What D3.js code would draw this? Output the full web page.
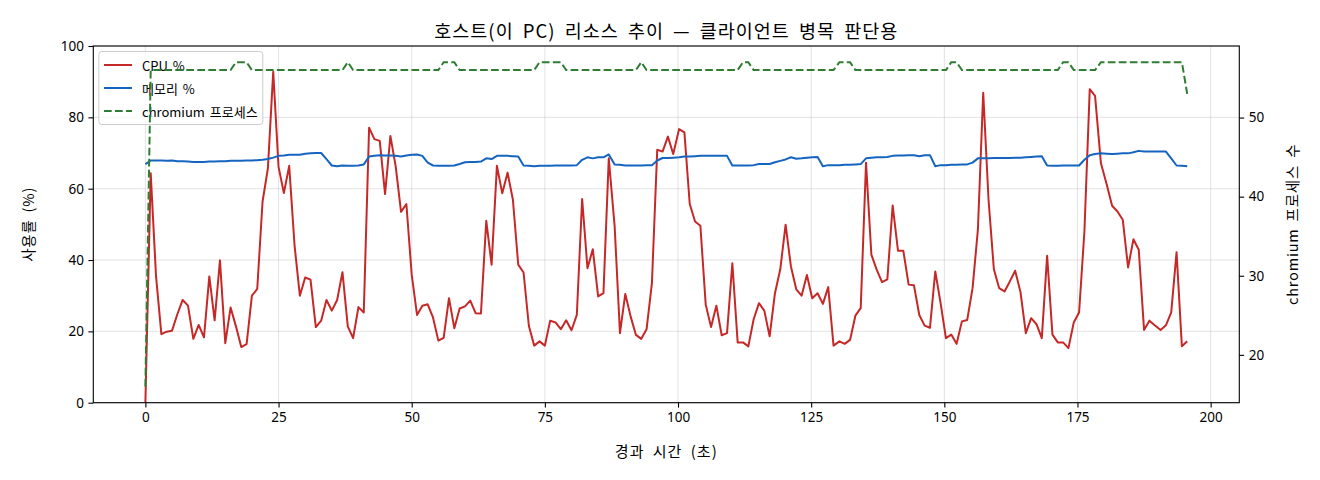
<!DOCTYPE html>
<html>
<head>
<meta charset="utf-8">
<script src="https://cdn.jsdelivr.net/npm/d3@7"></script>
<style>
  body { margin: 0; background: #fff; }
  text { font-family: "Noto Sans CJK KR", "Noto Sans", sans-serif; }
</style>
</head>
<body>
<div id="chart"></div>
<script>
const WIDTH = 1320;
const HEIGHT = 480;

// elapsed seconds for each sample (sampling drifts a little late)
const times = [
  0,1,2,3,4,5,6,7,8,9,
  10,11,12,13,14,15,16,17,18,19,
  20,21,22,23,24,25,26,27,28,29,
  30,31,32,33,34,35,36,37,38,39,
  40,41,42,43,44,45,46,47,48,49,
  50,51,52,53,54,55,56,57,58,59,
  60,61,62,63,64,65,66,67,68,69,
  70,71,72,73,74,75,76,77,78,79,
  80,81,82,83,84,85,86,87,88.1,89.1,
  90.1,91.1,92.1,93.1,94.1,95.1,96.1,97.1,98.1,99.1,
  100.2,101.2,102.2,103.2,104.2,105.2,106.2,107.2,108.2,109.2,
  110.2,111.2,112.2,113.2,114.2,115.2,116.2,117.2,118.2,119.2,
  120.2,121.2,122.2,123.2,124.2,125.2,126.2,127.2,128.2,129.2,
  130.3,131.3,132.3,133.3,134.3,135.3,136.3,137.3,138.3,139.3,
  140.3,141.3,142.3,143.3,144.3,145.3,146.3,147.3,148.3,149.3,
  150.3,151.3,152.3,153.3,154.3,155.3,156.3,157.3,158.3,159.3,
  160.3,161.3,162.3,163.3,164.3,165.3,166.3,167.3,168.3,169.3,
  170.3,171.3,172.3,173.3,174.3,175.3,176.3,177.3,178.3,179.4,
  180.5,181.5,182.5,183.5,184.5,185.5,186.5,187.5,188.5,189.5,
  190.6,191.6,192.6,193.6,194.6,195.6
];

const cpu = [
  0,64.3,35.4,19.2,19.9,20.2,24.8,28.8,27.2,17.9,
  21.8,18.3,35.4,23.1,39.9,16.7,26.7,21.4,15.6,16.4,
  30.0,31.9,56.4,65.7,92.8,66.1,58.8,66.4,44.2,30.0,
  35.1,34.5,21.2,23.0,28.8,25.8,28.8,36.6,21.4,18.1,
  26.8,25.3,77.1,73.9,73.4,58.5,74.8,66.2,53.5,55.7,
  35.9,24.6,27.2,27.6,23.9,17.4,18.2,29.3,20.9,26.4,
  27.0,28.6,25.1,25.0,51.0,38.7,66.4,58.7,64.5,56.9,
  38.7,36.5,21.5,16.0,17.2,16.0,23.0,22.5,20.6,23.1,
  20.3,24.6,57.1,37.7,43.0,29.8,30.7,68.5,49.5,19.5,
  30.5,24.2,19.0,17.9,20.6,33.5,70.9,70.4,74.6,69.7,
  76.7,75.8,55.7,50.8,49.6,27.5,21.2,27.2,18.9,19.5,
  39.1,16.9,16.9,15.8,23.4,27.9,25.8,18.6,30.7,37.4,
  49.9,38.2,31.8,30.0,35.8,29.3,30.7,27.7,32.4,16.0,
  17.2,16.5,17.6,24.4,26.5,67.3,41.5,37.3,33.8,34.6,
  55.3,42.6,42.6,33.1,32.9,24.6,21.6,21.0,36.8,27.9,
  18.1,19.1,16.5,22.8,23.2,32.1,48.5,86.9,56.9,37.4,
  32.1,31.2,34.0,37.0,31.0,19.5,23.7,22.0,18.1,41.2,
  19.1,16.9,16.9,15.3,22.5,25.3,48.0,87.9,86.0,67.1,
  61.1,55.2,53.6,51.3,37.9,45.8,42.9,20.4,23.0,21.7,
  20.4,21.7,25.3,42.2,15.8,17.2
];

const memory = [
  66.9,67.9,67.9,67.9,67.8,67.9,67.7,67.7,67.6,67.5,
  67.5,67.5,67.6,67.6,67.7,67.7,67.8,67.8,67.8,67.9,
  67.9,68.0,68.1,68.3,68.7,69.2,69.3,69.5,69.5,69.5,
  69.8,69.9,70.0,70.0,68.3,66.5,66.3,66.5,66.4,66.4,
  66.5,66.8,69.0,69.2,69.4,69.3,69.3,69.2,69.0,69.3,
  69.5,69.6,69.2,67.3,66.5,66.4,66.4,66.4,66.5,66.9,
  67.4,67.5,67.5,67.6,68.5,68.3,69.2,69.2,69.2,69.1,
  69.0,66.5,66.4,66.3,66.4,66.4,66.4,66.5,66.5,66.5,
  66.5,66.6,68.1,68.8,68.5,68.8,68.8,69.6,66.8,66.7,
  66.5,66.5,66.5,66.5,66.6,66.6,67.9,68.6,68.6,68.7,
  68.8,69.0,69.0,69.1,69.2,69.2,69.2,69.2,69.2,69.2,
  66.5,66.5,66.5,66.5,66.6,66.9,66.9,66.9,67.4,67.8,
  68.2,68.8,68.4,68.5,68.7,68.8,68.9,66.3,66.6,66.6,
  66.6,66.7,66.7,66.8,66.9,68.5,68.7,68.8,68.8,68.9,
  69.2,69.3,69.3,69.4,69.4,69.1,69.4,69.4,66.3,66.6,
  66.6,66.7,66.7,66.8,66.8,67.3,68.5,68.5,68.5,68.6,
  68.6,68.6,68.6,68.7,68.7,68.8,68.9,69.0,69.1,66.5,
  66.4,66.4,66.5,66.5,66.5,66.5,68.1,69.4,69.7,69.9,
  69.8,69.7,69.8,69.9,69.9,70.2,70.6,70.4,70.4,70.4,
  70.4,70.4,68.5,66.5,66.4,66.3
];

const chromium = [
  16,56,56,56,56,56,56,56,56,56,
  56,56,56,56,56,56,56,57,57,57,
  56,56,56,56,56,56,56,56,56,56,
  56,56,56,56,56,56,56,56,57,56,
  56,56,56,56,56,56,56,56,56,56,
  56,56,56,56,56,56,57,57,57,56,
  56,56,56,56,56,56,56,56,56,56,
  56,56,56,56,57,57,57,57,57,56,
  56,56,56,56,56,56,56,56,56,56,
  56,56,56,57,56,56,56,56,56,56,
  56,56,56,56,56,56,56,56,56,56,
  56,56,57,57,56,56,56,56,56,56,
  56,56,56,56,56,56,56,56,56,56,
  57,57,57,56,56,56,56,56,56,56,
  56,56,56,56,56,56,56,56,56,56,
  56,57,57,56,56,56,56,56,56,56,
  56,56,56,56,56,56,56,56,56,56,
  56,56,57,57,56,56,56,56,56,57,
  57,57,57,57,57,57,57,57,57,57,
  57,57,57,57,57,53
];

const xTicks = [0, 25, 50, 75, 100, 125, 150, 175, 200];
const yTicks = [0, 20, 40, 60, 80, 100];
const y2Ticks = [20, 30, 40, 50];

const series = [
  {name: "CPU %", values: cpu, color: "#c62828"},
  {name: "메모리 %", values: memory, color: "#1565c0"}
];

// plot box (matplotlib style)
const PL = 93.3, PR = 1239.3, PT = 46, PB = 402.7;

let svg = d3.select("#chart")
    .append("svg")
    .attr("width", WIDTH)
    .attr("height", HEIGHT);

svg.append("rect").attr("width", WIDTH).attr("height", HEIGHT).attr("fill", "#fff");

// 5% margins like matplotlib autoscale
let tExt = d3.extent(times);
let tPad = (tExt[1] - tExt[0]) * 0.05;
let x = d3.scaleLinear().domain([tExt[0] - tPad, tExt[1] + tPad]).range([PL, PR]);
let y = d3.scaleLinear().domain([0, 100]).range([PB, PT]);
let cExt = d3.extent(chromium);
let cPad = (cExt[1] - cExt[0]) * 0.05;
let y2 = d3.scaleLinear().domain([cExt[0] - cPad, cExt[1] + cPad]).range([PB, PT]);

// grid
let grid = svg.append("g");
grid.selectAll(".vg").data(xTicks).enter().append("line")
    .attr("x1", d => x(d)).attr("x2", d => x(d))
    .attr("y1", PT).attr("y2", PB)
    .attr("stroke", "#b0b0b0").attr("stroke-opacity", 0.35).attr("stroke-width", 1);
grid.selectAll(".hg").data(yTicks).enter().append("line")
    .attr("x1", PL).attr("x2", PR)
    .attr("y1", d => y(d)).attr("y2", d => y(d))
    .attr("stroke", "#b0b0b0").attr("stroke-opacity", 0.35).attr("stroke-width", 1);

svg.append("clipPath").attr("id", "plot")
    .append("rect").attr("x", PL).attr("y", PT)
    .attr("width", PR - PL).attr("height", PB - PT);

// cpu + memory
series.forEach(s => {
    let line = d3.line().x((d, i) => x(times[i])).y(d => y(d));
    svg.append("path")
        .attr("clip-path", "url(#plot)")
        .attr("d", line(s.values))
        .attr("fill", "none")
        .attr("stroke", s.color)
        .attr("stroke-width", 2)
        .attr("stroke-linejoin", "round");
});

// legend (sits under the twin-axis line)
let legendItems = [
    {name: "CPU %", color: "#c62828", dash: null},
    {name: "메모리 %", color: "#1565c0", dash: null},
    {name: "chromium 프로세스", color: "#2e7d32", dash: "7.7,3.3"}
];
let legend = svg.append("g");
legend.append("rect")
    .attr("x", 98.8).attr("y", 51.5)
    .attr("width", 164).attr("height", 73)
    .attr("rx", 3)
    .attr("fill", "#fff").attr("fill-opacity", 0.8)
    .attr("stroke", "#cccccc").attr("stroke-width", 1);
legendItems.forEach((d, i) => {
    let ly = 65 + i * 23;
    legend.append("line")
        .attr("x1", 104).attr("x2", 132)
        .attr("y1", ly).attr("y2", ly)
        .attr("stroke", d.color).attr("stroke-width", 2)
        .attr("stroke-dasharray", d.dash);
    legend.append("text")
        .attr("x", 142).attr("y", ly)
        .attr("dominant-baseline", "central")
        .style("font-size", "13px")
        .style("word-spacing", "2px")
        .attr("fill", "#000")
        .text(d.name);
});

// chromium process count on right axis
let cline = d3.line().x((d, i) => x(times[i])).y(d => y2(d));
svg.append("path")
    .attr("clip-path", "url(#plot)")
    .attr("d", cline(chromium))
    .attr("fill", "none")
    .attr("stroke", "#2e7d32")
    .attr("stroke-width", 2)
    .attr("stroke-dasharray", "7.7,3.3");

// axes
let xAxis = svg.append("g")
    .attr("transform", `translate(0,${PB})`)
    .call(d3.axisBottom(x).tickValues(xTicks).tickSize(4.9).tickPadding(4.5));
let yAxis = svg.append("g")
    .attr("transform", `translate(${PL},0)`)
    .call(d3.axisLeft(y).tickValues(yTicks).tickSize(4.9).tickPadding(4.5));
let y2Axis = svg.append("g")
    .attr("transform", `translate(${PR},0)`)
    .call(d3.axisRight(y2).tickValues(y2Ticks).tickSize(4.9).tickPadding(4.5));

[xAxis, yAxis, y2Axis].forEach(a => {
    a.select(".domain").remove();
    a.selectAll("line").attr("stroke", "#000").attr("stroke-width", 1.1);
    a.selectAll("text").style("font-size", "13.5px").attr("fill", "#000")
        .style("font-family", "'Noto Sans', 'Noto Sans CJK KR', sans-serif");
});

// spines
svg.append("rect")
    .attr("x", PL).attr("y", PT)
    .attr("width", PR - PL).attr("height", PB - PT)
    .attr("fill", "none").attr("stroke", "#000").attr("stroke-width", 1.1);

// labels
function label(txt, size, ws, ls) {
    return svg.append("text")
        .attr("text-anchor", "middle").attr("dominant-baseline", "central")
        .style("font-size", size + "px")
        .style("word-spacing", ws + "px")
        .style("letter-spacing", ls + "px")
        .text(txt);
}

label("호스트(이 PC) 리소스 추이 — 클라이언트 병목 판단용", 18.5, 4, 1)
    .attr("x", (PL + PR) / 2).attr("y", 30);

label("경과 시간 (초)", 15, 4, 1)
    .attr("x", (PL + PR) / 2).attr("y", 450);

label("사용률 (%)", 14.5, 3, 0.8)
    .attr("transform", `translate(27,${(PT + PB) / 2}) rotate(-90)`);

label("chromium 프로세스 수", 14.5, 3, 0.8)
    .attr("transform", `translate(1291,${(PT + PB) / 2}) rotate(-90)`);
</script>
</body>
</html>
